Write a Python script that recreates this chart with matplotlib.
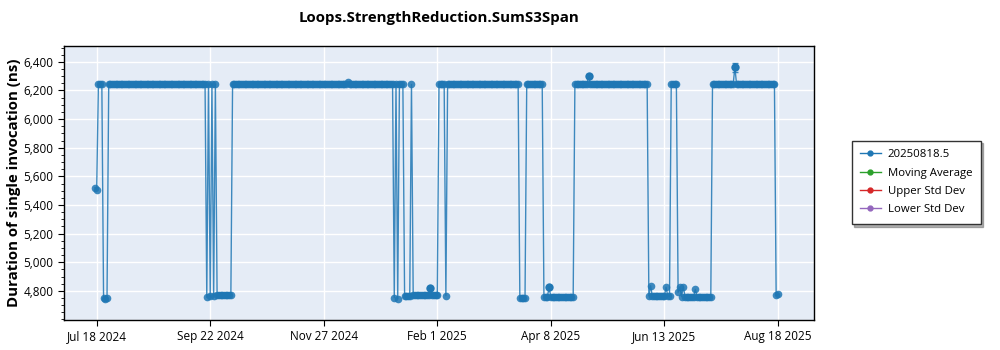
import pandas as pd
import matplotlib.pyplot as plt
import matplotlib.dates as mdates
from matplotlib.lines import Line2D
from matplotlib.ticker import FuncFormatter, AutoMinorLocator

# =========================
# DATA
# =========================

# runs of daily samples: first day, last day, duration (ns)
run_start = [
    "2024-07-17", "2024-07-18", "2024-07-19", "2024-07-22", "2024-07-23", "2024-07-24",
    "2024-07-25", "2024-09-20", "2024-09-21", "2024-09-22", "2024-09-23", "2024-09-24",
    "2024-09-25", "2024-09-26", "2024-10-05", "2024-12-11", "2024-12-12", "2025-01-07",
    "2025-01-08", "2025-01-09", "2025-01-10", "2025-01-13", "2025-01-17", "2025-01-18",
    "2025-01-28", "2025-01-29", "2025-02-02", "2025-02-06", "2025-02-07", "2025-03-21",
    "2025-03-25", "2025-04-04", "2025-04-07", "2025-04-08", "2025-04-22", "2025-04-30",
    "2025-05-01", "2025-06-04", "2025-06-05", "2025-06-06", "2025-06-14", "2025-06-15",
    "2025-06-17", "2025-06-21", "2025-06-22", "2025-06-23", "2025-06-24", "2025-06-25",
    "2025-07-01", "2025-07-02", "2025-07-11", "2025-07-24", "2025-07-25", "2025-08-17",
    "2025-08-18",
]
run_end = [
    "2024-07-17", "2024-07-18", "2024-07-21", "2024-07-22", "2024-07-23", "2024-07-24",
    "2024-09-19", "2024-09-20", "2024-09-21", "2024-09-22", "2024-09-23", "2024-09-24",
    "2024-09-25", "2024-10-04", "2024-12-10", "2024-12-11", "2025-01-06", "2025-01-07",
    "2025-01-08", "2025-01-09", "2025-01-12", "2025-01-16", "2025-01-17", "2025-01-27",
    "2025-01-28", "2025-02-01", "2025-02-05", "2025-02-06", "2025-03-20", "2025-03-24",
    "2025-04-03", "2025-04-06", "2025-04-07", "2025-04-21", "2025-04-29", "2025-04-30",
    "2025-06-03", "2025-06-04", "2025-06-05", "2025-06-13", "2025-06-14", "2025-06-16",
    "2025-06-20", "2025-06-21", "2025-06-22", "2025-06-23", "2025-06-24", "2025-06-30",
    "2025-07-01", "2025-07-10", "2025-07-23", "2025-07-24", "2025-08-16", "2025-08-17",
    "2025-08-18",
]
run_value = [
    5522, 5506, 6242, 4752, 4744, 4748,
    6242, 4755, 6242, 4762, 6242, 4766,
    6242, 4770, 6242, 6256, 6242, 4752,
    6242, 4745, 6242, 4766, 6242, 4768,
    4818, 4768, 6242, 4766, 6242, 4750,
    6242, 4758, 4824, 4758, 6242, 6302,
    6242, 4765, 4836, 4762, 4825, 4762,
    6242, 4790, 4828, 4760, 4830, 4760,
    4810, 4760, 6242, 6362, 6242, 4768,
    4775,
]

# std dev on the samples where it is visible
err_dates = ["2025-01-28", "2025-04-07", "2025-04-30", "2025-07-24"]
err_values = [4818, 4824, 6302, 6362]
err_sizes = [8, 8, 14, 30]

tick_dates = ["2024-07-18", "2024-09-22", "2024-11-27", "2025-02-01",
              "2025-04-08", "2025-06-13", "2025-08-18"]
series_names = ["20250818.5", "Moving Average", "Upper Std Dev", "Lower Std Dev"]
series_colors = ["#1f77b4", "#2ca02c", "#d62728", "#9467bd"]

# expand runs into one sample per day
frames = []
for s, e, v in zip(run_start, run_end, run_value):
    days = pd.date_range(s, e, freq="D")
    frames.append(pd.DataFrame({"date": days, "value": [v] * len(days)}))
df = pd.concat(frames, ignore_index=True)

# =========================
# PLOT
# =========================

plt.rcParams["font.family"] = ["Open Sans", "DejaVu Sans"]

fig = plt.figure(figsize=(10, 3.5), dpi=100)
ax = fig.add_axes([0.064, 0.086, 0.750, 0.783])
ax.set_facecolor("#e5ecf6")

ax.plot(df["date"], df["value"], color=series_colors[0], lw=1, alpha=0.85,
        marker="o", ms=5.5, mew=0, zorder=3)
ax.errorbar(pd.to_datetime(err_dates), err_values, yerr=err_sizes, fmt="o",
            color=series_colors[0], ms=5, elinewidth=1.2, capsize=2.5,
            alpha=0.85, zorder=4)

ax.set_xlim(pd.Timestamp("2024-06-29"), pd.Timestamp("2025-09-08"))
ax.set_ylim(4597, 6512)

ax.set_xticks(pd.to_datetime(tick_dates))
ax.xaxis.set_major_formatter(mdates.DateFormatter("%b %-d %Y"))
ax.set_yticks(range(4800, 6401, 200))
ax.yaxis.set_major_formatter(FuncFormatter(lambda v, p: f"{int(v):,}"))
ax.yaxis.set_minor_locator(AutoMinorLocator(4))

ax.grid(True, color="white", lw=1)
ax.set_axisbelow(True)
ax.tick_params(labelsize=8.5, length=4, color="black")
ax.tick_params(axis="y", which="minor", length=2)
for sp in ax.spines.values():
    sp.set_color("black")
    sp.set_linewidth(1)

ax.set_title("Loops.StrengthReduction.SumS3Span", fontsize=10.8, fontweight="bold", pad=17)
ax.set_ylabel("Duration of single invocation (ns)", fontsize=10.8, fontweight="bold",
              labelpad=1.5)

handles = [Line2D([], [], color=c, lw=1, marker="o", ms=3.5) for c in series_colors]
leg = fig.legend(handles, series_names, loc="center left",
                 bbox_to_anchor=(0.846, 0.479), fontsize=8.2, frameon=True,
                 fancybox=False, shadow={"ox": 2, "oy": -2, "color": "#666666"},
                 edgecolor="#333333", framealpha=1,
                 handlelength=1.8, handletextpad=0.6, borderpad=0.75,
                 labelspacing=0.65)
leg.get_frame().set_linewidth(1)

fig.savefig("out.png", dpi=100)
